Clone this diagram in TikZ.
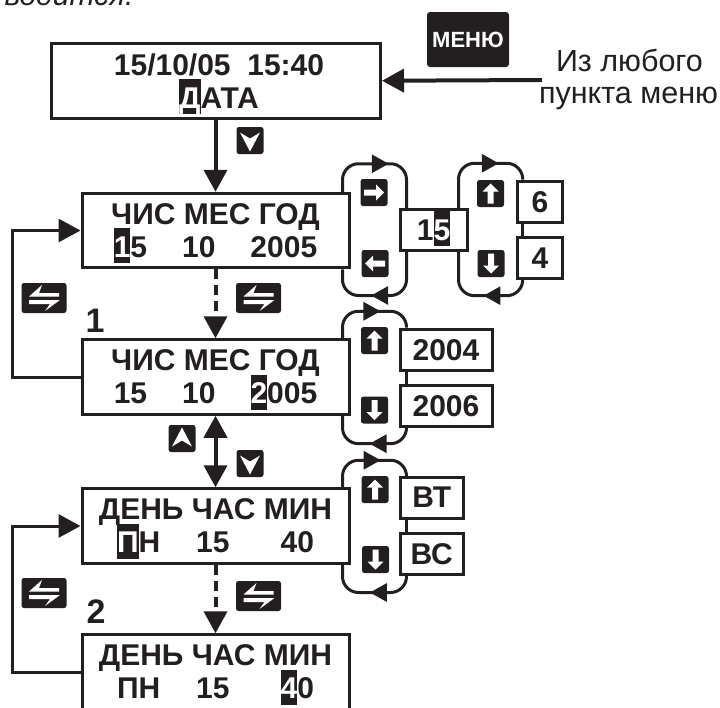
\documentclass[tikz,border=0pt]{standalone}
\usepackage{xcolor}
\usepackage{fontspec}
\setmainfont{Liberation Sans}
\usetikzlibrary{arrows.meta, decorations.markings, calc}
\definecolor{inkblack}{RGB}{35, 31, 32}

% cursor over one character of a display line
\newcommand{\curs}[1]{\smash{\setlength{\fboxsep}{0pt}\colorbox{inkblack}{\rule[-6pt]{0pt}{35pt}\textcolor{white}{#1}}}}

\tikzset{
    lcdbox/.style={draw, line width=3pt, minimum width=267pt, minimum height=74.5pt, inner sep=0pt,
        align=center, font=\bfseries\fontsize{30}{33}\selectfont},
    valuebox/.style={draw, line width=3pt, minimum height=41pt, inner sep=0pt,
        font=\bfseries\fontsize{30}{33}\selectfont},
    keybox/.style={fill=inkblack, rounded corners=2.5pt, minimum width=27pt, minimum height=27pt, inner sep=0pt},
    widekey/.style={fill=inkblack, rounded corners=2.5pt, minimum width=45pt, minimum height=30pt, inner sep=0pt},
    mainline/.style={line width=4pt, -{Triangle[length=22pt, width=23pt]}},
    dashline/.style={mainline, dash pattern=on 10pt off 6pt},
    backline/.style={line width=3pt, -{Triangle[length=22pt, width=23pt]}},
    loopline/.style={line width=3pt, rounded corners=16pt, postaction={decorate},
        decoration={markings, mark=at position #1 with {\arrow{Triangle[length=17pt, width=18pt]}}}},
    pics/blockkey/.style={code={
        \node[keybox] (-k) {};
        \fill[white] (-10,-3) -- (2,-3) -- (2,-8) -- (10,0) -- (2,8) -- (2,3) -- (-10,3) -- cycle;
    }},
    pics/chevronkey/.style={code={
        \node[keybox] (-k) {};
        \fill[white] (-10,-8) -- (0,-2) -- (10,-8) -- (0,11) -- cycle;
    }},
    pics/swapkey/.style={code={
        \node[widekey] (-k) {};
        \fill[white] (-15,-1.5) -- (-2,-13) -- (-5,-5) -- (15,-5) -- (15,-1.5) -- cycle;
        \fill[white] (-15,2) -- (16,2) -- (1,13) -- (6,6) -- (-15,6) -- cycle;
    }},
}

\begin{document}
\begin{tikzpicture}[x=1pt, y=-1pt, inkblack]
    \useasboundingbox (0,0) rectangle (720,707);
    \clip (0,0) rectangle (720,707);

    \node[anchor=base west, font=\itshape\fontsize{30}{33}\selectfont] (topline) at (1,5) {водится.};

    % display boxes
    \node[lcdbox, minimum width=329pt] (datebox) at (216,80.75) {\hspace*{6pt}15/10/05\ \ 15:40\\\hspace*{6pt}\curs{Д}АТА};
    \node[lcdbox] (daybox) at (215.5,230.5) {ЧИС МЕС ГОД\\\curs{1}5\hspace{35pt}10\hspace{35pt}2005};
    \node[lcdbox] (yearbox) at (215.5,377) {ЧИС МЕС ГОД\\15\hspace{35pt}10\hspace{35pt}\curs{2}005};
    \node[lcdbox] (wdaybox) at (215.5,526) {ДЕНЬ ЧАС МИН\\\curs{П}Н\hspace{36pt}15\hspace{51pt}40};
    \node[lcdbox] (minbox) at (215.5,672) {ДЕНЬ ЧАС МИН\\ПН\hspace{36pt}15\hspace{51pt}\curs{4}0};

    % value boxes
    \node[valuebox, minimum width=67pt] (digitbox) at (433.5,230) {1\curs{5}};
    \node[valuebox, minimum width=45.5pt] (sixbox) at (540,201.7) {6};
    \node[valuebox, minimum width=45.5pt] (fourbox) at (540,257.7) {4};
    \node[valuebox, minimum width=92pt] (lowyear) at (446,349.7) {2004};
    \node[valuebox, minimum width=92pt] (highyear) at (446,405.7) {2006};
    \node[valuebox, minimum width=63.5pt] (tuebox) at (431.75,497.5) {ВТ};
    \node[valuebox, minimum width=63.5pt] (sunbox) at (431.75,554) {ВС};

    % keys
    \node[fill=inkblack, rounded corners=3pt, minimum width=82pt, minimum height=55pt, inner sep=0pt,
          text=white, font=\bfseries\fontsize{22}{24}\selectfont] (menukey) at (468,39.5) {МЕНЮ};
    \pic at (250,140.5) {chevronkey};
    \pic at (250,463.5) {chevronkey};
    \pic[rotate=180] at (182,438.5) {chevronkey};
    \pic at (44,298) {swapkey};
    \pic at (258.5,298) {swapkey};
    \pic at (44,593) {swapkey};
    \pic at (258.5,596) {swapkey};
    \pic at (374,192.5) {blockkey};
    \pic[rotate=180] at (375,263.5) {blockkey};
    \pic[rotate=90] at (490.5,193.5) {blockkey};
    \pic[rotate=-90] at (491,263.5) {blockkey};
    \pic[rotate=90] at (374.5,340.5) {blockkey};
    \pic[rotate=-90] at (374.5,410) {blockkey};
    \pic[rotate=90] at (375,489.5) {blockkey};
    \pic[rotate=-90] at (375.5,559.5) {blockkey};

    \node[anchor=base, font=\bfseries\fontsize{34}{34}\selectfont] (groupone) at (95,332) {1};
    \node[anchor=base, font=\bfseries\fontsize{34}{34}\selectfont] (grouptwo) at (96,623) {2};

    \node[anchor=base, font=\fontsize{30.5}{32}\selectfont] (fromany) at (629.5,71) {Из любого};
    \node[anchor=base, font=\fontsize{30.5}{32}\selectfont] (anyitem) at (628.5,103) {пункта меню};
    \coordinate (menustart) at (542,80);

    % main path
    \draw[mainline] (menustart) -- (datebox.east);
    \draw[mainline] (datebox.south -| daybox.north) -- (daybox.north);
    \draw[dashline] (daybox.south) -- (yearbox.north);
    \draw[line width=4pt, {Triangle[length=22pt, width=23pt]}-{Triangle[length=22pt, width=23pt]}] (yearbox.south) -- (wdaybox.north);
    \draw[dashline] (wdaybox.south) -- (minbox.north);
    \draw[backline] (yearbox.west) -- ++(-68,0) |- (daybox.west);
    \draw[backline] (minbox.west) -- ++(-68,0) |- (wdaybox.west);

    % loops at the right
    \draw[loopline=0.55] ([xshift=-8pt]daybox.north east) -- ++(0,-28) -| ([xshift=8pt]digitbox.north west);
    \draw[loopline=0.6] ([xshift=8pt]digitbox.south west) -- ++(0,43.5) -| ([xshift=-8pt]daybox.south east);
    \draw[loopline=0.7] ([xshift=-10pt]digitbox.north east) -- ++(0,-44.7) -| ([xshift=7pt]sixbox.north west);
    \draw[loopline=0.44] ([xshift=7pt]fourbox.south west) -- ++(0,16) -| ([xshift=-10pt]digitbox.south east);
    \draw[line width=3pt] ([xshift=7pt]sixbox.south west) -- ([xshift=7pt]fourbox.north west);

    \draw[loopline=0.62] ([xshift=-8pt]yearbox.north east) -- ++(0,-27) -| ([xshift=8pt]lowyear.north west);
    \draw[loopline=0.49] ([xshift=8pt]highyear.south west) -- ++(0,16) -| ([xshift=-8pt]yearbox.south east);
    \draw[line width=3pt] ([xshift=8pt]lowyear.south west) -- ([xshift=8pt]highyear.north west);

    \draw[loopline=0.62] ([xshift=-8pt]wdaybox.north east) -- ++(0,-27) -| ([xshift=8pt]tuebox.north west);
    \draw[loopline=0.49] ([xshift=8pt]sunbox.south west) -- ++(0,16.5) -| ([xshift=-8pt]wdaybox.south east);
    \draw[line width=3pt] ([xshift=8pt]tuebox.south west) -- ([xshift=8pt]sunbox.north west);
\end{tikzpicture}
\end{document}
